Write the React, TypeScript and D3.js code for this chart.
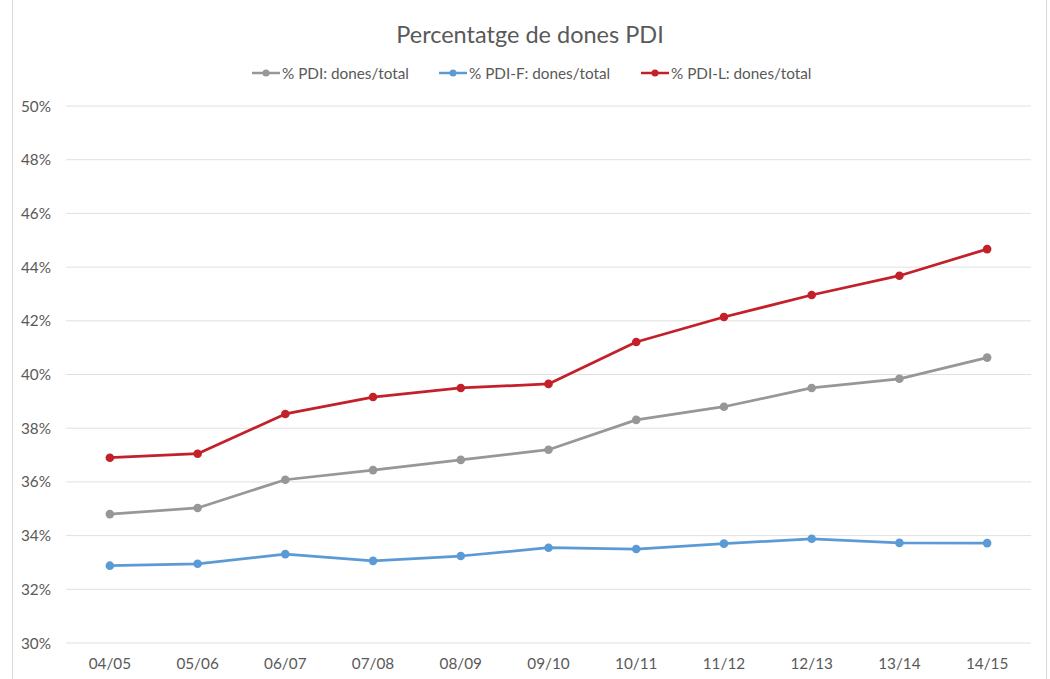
import React from "react";
import * as d3 from "d3";

const categories = ["04/05", "05/06", "06/07", "07/08", "08/09", "09/10", "10/11", "11/12", "12/13", "13/14", "14/15"];
const pdiTotal = [34.80, 35.03, 36.08, 36.44, 36.82, 37.20, 38.31, 38.80, 39.50, 39.84, 40.63];
const pdiF = [32.88, 32.95, 33.31, 33.06, 33.24, 33.55, 33.50, 33.70, 33.88, 33.73, 33.72];
const pdiL = [36.90, 37.05, 38.53, 39.16, 39.50, 39.65, 41.21, 42.14, 42.96, 43.68, 44.67];
const yTicks = [30, 32, 34, 36, 38, 40, 42, 44, 46, 48, 50];
const seriesNames = ["% PDI: dones/total", "% PDI-F: dones/total", "% PDI-L: dones/total"];

const W = 1050, H = 679;
const FONT = "Lato, 'Open Sans', sans-serif";
const TXT = "#595959";

export default function App() {
  const x = d3.scaleBand<string>().domain(categories).range([66, 1031]);
  const y = d3.scaleLinear().domain([30, 50]).range([643, 106]);
  const line = d3.line<number>().x((_, i) => x(categories[i])! + x.bandwidth() / 2).y((d) => y(d));
  const series = [
    { name: seriesNames[0], data: pdiTotal, color: "#979797" },
    { name: seriesNames[1], data: pdiF, color: "#5B9BD5" },
    { name: seriesNames[2], data: pdiL, color: "#C3202A" },
  ];
  const legendX = [252, 439, 641];
  return (
    <svg width={W} height={H} style={{ position: "absolute", left: 0, top: 0 }} fontFamily={FONT}>
      <rect x={0} y={0} width={W} height={H} fill="#fff" />
      <rect x={12.5} y={-2} width={1034} height={H + 10} fill="none" stroke="#d9d9d9" />
      <text x={530} y={43} textAnchor="middle" fontSize={23.5} fill={TXT}>Percentatge de dones PDI</text>
      {series.map((s, i) => (
        <g key={s.name} transform={`translate(${legendX[i]},73)`}>
          <line x1={0} x2={28} y1={0} y2={0} stroke={s.color} strokeWidth={2.5} />
          <circle cx={14} cy={0} r={3.5} fill={s.color} />
          <text x={30} y={5.5} fontSize={15.3} fill={TXT}>{s.name}</text>
        </g>
      ))}
      {yTicks.map((t) => (
        <g key={t}>
          <line x1={66} x2={1031} y1={y(t)} y2={y(t)} stroke="#e0e0e0" strokeWidth={1} />
          <text x={51} y={y(t) + 5.5} textAnchor="end" fontSize={15.3} fill={TXT}>{t}%</text>
        </g>
      ))}
      {categories.map((c) => (
        <text key={c} x={x(c)! + x.bandwidth() / 2} y={669} textAnchor="middle" fontSize={15.3} fill={TXT}>{c}</text>
      ))}
      {series.map((s) => (
        <g key={s.name}>
          <path d={line(s.data)!} fill="none" stroke={s.color} strokeWidth={2.75} strokeLinejoin="round" />
          {s.data.map((v, i) => (
            <circle key={i} cx={x(categories[i])! + x.bandwidth() / 2} cy={y(v)} r={4.3} fill={s.color} />
          ))}
        </g>
      ))}
    </svg>
  );
}
